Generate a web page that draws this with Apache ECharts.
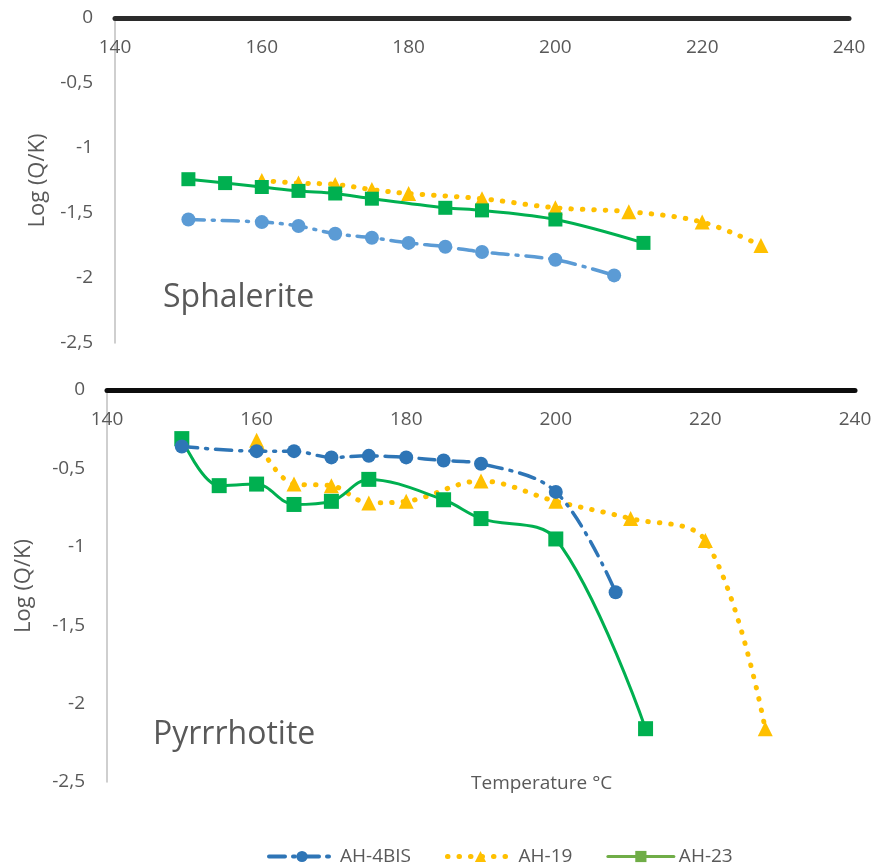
<!DOCTYPE html>
<html>
<head>
<meta charset="utf-8">
<script src="https://cdn.jsdelivr.net/npm/echarts@6/dist/echarts.min.js"></script>
<style>
  html, body { margin: 0; padding: 0; background: #fff; }
  #chart { width: 877px; height: 868px; }
</style>
</head>
<body>
<div id="chart"></div>
<script>
// x ticks / y ticks
const xTicks = [140, 160, 180, 200, 220, 240];
const yTicks = [0, -0.5, -1, -1.5, -2, -2.5];

// Sphalerite panel
const sphTemp4BIS = [150, 160, 165, 170, 175, 180, 185, 190, 200, 208];
const sphLog4BIS = [-1.55, -1.57, -1.60, -1.66, -1.69, -1.73, -1.76, -1.80, -1.86, -1.98];
const sphTemp19 = [160, 165, 170, 175, 180, 190, 200, 210, 220, 228];
const sphLog19 = [-1.25, -1.27, -1.28, -1.32, -1.35, -1.39, -1.46, -1.49, -1.57, -1.75];
const sphTemp23 = [150, 155, 160, 165, 170, 175, 185, 190, 200, 212];
const sphLog23 = [-1.24, -1.27, -1.30, -1.33, -1.35, -1.39, -1.46, -1.48, -1.55, -1.73];

// Pyrrhotite panel
const pyrTemp4BIS = [150, 160, 165, 170, 175, 180, 185, 190, 200, 208];
const pyrLog4BIS = [-0.36, -0.39, -0.39, -0.43, -0.42, -0.43, -0.45, -0.47, -0.65, -1.29];
const pyrTemp19 = [160, 165, 170, 175, 180, 190, 200, 210, 220, 228];
const pyrLog19 = [-0.32, -0.60, -0.61, -0.72, -0.71, -0.58, -0.71, -0.82, -0.96, -2.16];
const pyrTemp23 = [150, 155, 160, 165, 170, 175, 185, 190, 200, 212];
const pyrLog23 = [-0.31, -0.61, -0.60, -0.73, -0.71, -0.57, -0.70, -0.82, -0.95, -2.16];

const FONT = 'Open Sans';
const GREY = '#595959';

function pairs(xs, ys) {
  return xs.map((x, i) => [x, ys[i]]);
}
function comma(v) {
  return String(v).replace('.', ',');
}

const dashDot = [16, 8, 2, 8];
const dots = [0.5, 11];

function xAxisFor(gridIndex, lineColor) {
  return {
    type: 'value',
    gridIndex: gridIndex,
    position: 'top',
    min: xTicks[0],
    max: xTicks[xTicks.length - 1],
    interval: 20,
    axisLine: { show: true, onZero: false, lineStyle: { color: lineColor, width: 5 } },
    axisTick: { show: false },
    splitLine: { show: false },
    axisLabel: {
      inside: true,
      margin: 20,
      color: GREY,
      fontSize: 19,
      fontFamily: FONT
    }
  };
}

function yAxisFor(gridIndex, nameGap) {
  return {
    type: 'value',
    gridIndex: gridIndex,
    min: yTicks[yTicks.length - 1],
    max: yTicks[0],
    interval: 0.5,
    name: 'Log (Q/K)',
    nameLocation: 'middle',
    nameGap: nameGap,
    nameTextStyle: { color: GREY, fontSize: 22, fontFamily: FONT },
    axisLine: { show: true, onZero: false, lineStyle: { color: '#bfbfbf', width: 1.5 } },
    axisTick: { show: false },
    splitLine: { show: false },
    axisLabel: {
      margin: 22,
      color: GREY,
      fontSize: 19,
      fontFamily: FONT,
      formatter: comma
    }
  };
}

function lineSeries(name, idx, data, color, dash, width, symbol, size) {
  return {
    name: name,
    type: 'line',
    xAxisIndex: idx,
    yAxisIndex: idx,
    data: data,
    smooth: 0.35,
    symbol: symbol,
    symbolSize: size,
    itemStyle: { color: color },
    lineStyle: { color: color, width: width, type: dash, cap: 'round' },
    z: name === 'AH-23' ? 3 : (name === 'AH-19' ? 2 : 4)
  };
}

const chart = echarts.init(document.getElementById('chart'));

const option = {
  animation: false,
  backgroundColor: '#fff',
  textStyle: { fontFamily: FONT },
  title: [
    {
      text: 'Sphalerite',
      left: 158,
      top: 277,
      textStyle: { fontSize: 32, fontWeight: 'normal', color: GREY, fontFamily: FONT }
    },
    {
      text: 'Pyrrrhotite',
      left: 148,
      top: 714,
      textStyle: { fontSize: 32, fontWeight: 'normal', color: GREY, fontFamily: FONT }
    },
    {
      text: 'Temperature °C',
      left: 466,
      top: 769,
      textStyle: { fontSize: 19, fontWeight: 'normal', color: GREY, fontFamily: FONT }
    }
  ],
  legend: {
    left: 262,
    top: 842,
    itemWidth: 66,
    itemHeight: 14,
    itemGap: 34,
    textStyle: { color: GREY, fontSize: 19, fontFamily: FONT },
    data: [
      { name: 'AH-4BIS', itemStyle: { color: '#2E75B6' }, lineStyle: { color: '#2E75B6', type: dashDot, width: 4 } },
      { name: 'AH-19', itemStyle: { color: '#FFC000' }, lineStyle: { color: '#FFC000', type: dots, width: 5 } },
      { name: 'AH-23', itemStyle: { color: '#70AD47' }, lineStyle: { color: '#70AD47', type: 'solid', width: 3 } }
    ]
  },
  grid: [
    { left: 115, right: 28, top: 18, height: 325 },
    { left: 107, right: 22, top: 390, height: 392 }
  ],
  xAxis: [xAxisFor(0, '#2b2b2b'), xAxisFor(1, '#0d0d0d')],
  yAxis: [yAxisFor(0, 66), yAxisFor(1, 72)],
  series: [
    lineSeries('AH-4BIS', 0, pairs(sphTemp4BIS, sphLog4BIS), '#5B9BD5', dashDot, 3.5, 'circle', 14),
    lineSeries('AH-19', 0, pairs(sphTemp19, sphLog19), '#FFC000', dots, 5, 'triangle', 15),
    lineSeries('AH-23', 0, pairs(sphTemp23, sphLog23), '#00B050', 'solid', 3, 'rect', 14),
    lineSeries('AH-4BIS', 1, pairs(pyrTemp4BIS, pyrLog4BIS), '#2E75B6', dashDot, 3.5, 'circle', 14),
    lineSeries('AH-19', 1, pairs(pyrTemp19, pyrLog19), '#FFC000', dots, 5, 'triangle', 15),
    lineSeries('AH-23', 1, pairs(pyrTemp23, pyrLog23), '#00B050', 'solid', 3, 'rect', 15)
  ]
};

chart.setOption(option);
</script>
</body>
</html>
